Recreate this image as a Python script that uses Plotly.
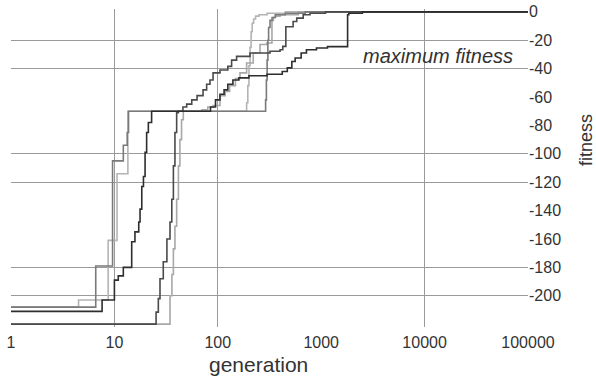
import plotly.graph_objects as go

# ---------------- data ----------------
x_tick_vals = [1, 10, 100, 1000, 10000, 100000]
x_tick_text = ["1", "10", "100", "1000", "10000", "100000"]
y_tick_vals = [0, -20, -40, -60, -80, -100, -120, -140, -160, -180, -200]
y_tick_text = ["0", "-20", "-40", "-60", "-80", "-100", "-120", "-140", "-160", "-180", "-200"]
x_grid_vals = [10, 100, 10000]
y_grid_vals = [-20, -40, -100, -120, -180, -200]

# run A (medium grey)
gen_a = [1, 6.6, 9.6, 12.2, 13.3, 13.7, 290, 295, 300, 305, 310, 320, 335, 360, 450, 700, 100000]
fit_a = [-208, -179, -105, -94, -85, -70, -62, -48, -34, -20, -11, -6, -4, -2, -1, 0, 0]

# run B (light grey)
gen_b = [1, 4.5, 8.7, 10.6, 13.5, 190, 195, 200, 205, 210, 215, 222, 232, 250, 300, 450, 100000]
fit_b = [-208, -203, -161, -114, -70, -64, -52, -38, -25, -14, -8, -5, -3, -2, -1, 0, 0]

# run C (dark)
gen_c = [1, 7.6, 10.0, 10.9, 12.2, 14.7, 15.8, 17.2, 17.7, 18.4, 19.1, 19.8, 20.5, 21.3, 22.9,
         85, 95, 105, 115, 125, 140, 160, 200, 300, 420, 470, 520, 560, 640, 720, 900, 1150,
         1800, 1850, 2500, 100000]
fit_c = [-211, -203, -189, -186, -180, -162, -155, -148, -139, -123, -116, -99, -85, -78, -70,
         -67, -62, -58, -55, -51, -48, -46.5, -45, -44, -42, -39.5, -35, -32.5, -29, -26.7, -25.5, -24.5,
         -2, -1, 0, 0]

# run D (dark grey)
gen_d = [1, 25.3, 26.6, 27.6, 29.7, 32.2, 34.5, 35.9, 37.2, 38.5, 40, 41.6, 46, 50, 56, 63, 72, 78,
         84, 90, 105, 125, 136, 152, 205, 320, 400, 425, 455, 535, 580, 670, 780, 1100, 100000]
fit_d = [-220, -211.5, -202, -188, -176, -160, -148, -132, -108.5, -85, -71, -70, -67, -65, -62, -59, -55, -51,
         -48, -43, -41, -38.4, -34, -31.4, -29, -27.8, -26.7, -24.3, -10.5, -6.8, -4.4, -2, -1, 0, 0]

# run E (light grey)
gen_e = [1, 34.5, 36, 37.2, 38.5, 40, 41.6, 43, 44.6, 46.4, 70, 80, 90, 105, 118, 130, 148, 164,
         190, 220, 256, 297, 334, 345, 360, 400, 600, 100000]
fit_e = [-220, -200, -185, -167, -151, -132, -108.5, -90, -76, -70, -69, -67, -66, -59, -56, -52, -47, -43,
         -36, -29, -23, -22, -6, -4, -3, -2, 0, 0]

runs = [
    (gen_b, fit_b, "#b4b4b4"),
    (gen_e, fit_e, "#a8a8a8"),
    (gen_a, fit_a, "#7a7a7a"),
    (gen_d, fit_d, "#4a4a4a"),
    (gen_c, fit_c, "#2e2e2e"),
]

fig = go.Figure()
for g, f, col in runs:
    assert len(g) == len(f)
    fig.add_trace(go.Scatter(x=g, y=f, mode="lines", line=dict(color=col, width=1.6, shape="hv"),
                             showlegend=False, hoverinfo="skip"))

# empty trace to hold the label axes
fig.add_trace(go.Scatter(x=[], y=[], xaxis="x2", yaxis="y2", showlegend=False, hoverinfo="skip"))

tick_font = dict(family="Liberation Sans, Arial, sans-serif", size=16, color="#333333")
grid_col = "#9a9a9a"
xr = [0, 5]
yr = [-222, 2]

fig.update_layout(
    width=596, height=378,
    margin=dict(l=11, r=68, t=9, b=51, autoexpand=False),
    paper_bgcolor="white", plot_bgcolor="white",
    xaxis=dict(type="log", range=xr, tickvals=x_grid_vals, showticklabels=False, showgrid=True,
               gridcolor=grid_col, gridwidth=1, zeroline=False, showline=False, ticks="",
               automargin=False),
    xaxis2=dict(type="log", range=xr, overlaying="x", anchor="y", side="bottom",
                tickvals=x_tick_vals, ticktext=x_tick_text, showgrid=False, zeroline=False,
                showline=False, ticks="", tickfont=tick_font, automargin=False,
                ticklabeloverflow="allow", ticklabelstandoff=4),
    yaxis=dict(range=yr, tickvals=y_grid_vals, showticklabels=False, showgrid=True, side="right",
               gridcolor=grid_col, gridwidth=1, zeroline=False, showline=False, ticks="",
               automargin=False),
    yaxis2=dict(range=yr, overlaying="y", anchor="x", side="right", tickvals=y_tick_vals,
                ticktext=y_tick_text, showgrid=False, zeroline=False, showline=False, ticks="",
                tickfont=tick_font, automargin=False, ticklabeloverflow="allow"),
    font=dict(family="Liberation Sans, Arial, sans-serif", color="#333333"),
)

fig.add_annotation(text="<i>maximum fitness</i>", xref="paper", yref="paper",
                   x=(438 - 11) / 517, y=(327 - 56) / 318, showarrow=False,
                   font=dict(size=20, color="#333333"), xanchor="center", yanchor="middle")
fig.add_annotation(text="generation", xref="paper", yref="paper",
                   x=(258 - 11) / 517, y=(327 - 364) / 318, showarrow=False,
                   font=dict(size=21, color="#333333"), xanchor="center", yanchor="middle")
fig.add_annotation(text="fitness", xref="paper", yref="paper",
                   x=(586 - 11) / 517, y=(327 - 140) / 318, showarrow=False, textangle=-90,
                   font=dict(size=18, color="#333333"), xanchor="center", yanchor="middle")

# remove the browser's default 8px body margin so the figure sits at the page origin
fig.write_html("out.html", config={"displayModeBar": False},
               post_script="document.body.style.margin='0';")
